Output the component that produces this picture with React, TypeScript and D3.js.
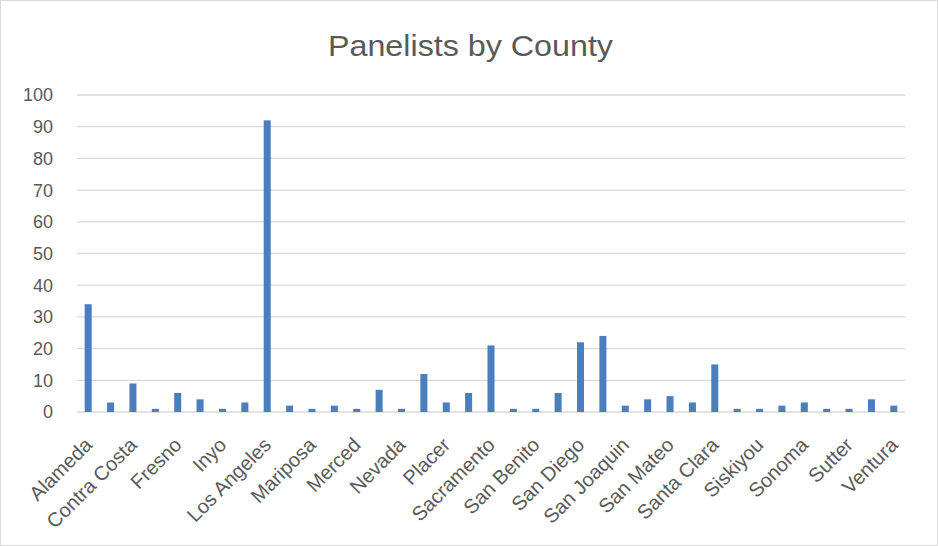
import React from "react";
import * as d3 from "d3";

const counties: string[] = [
  "Alameda", "Butte", "Contra Costa", "El Dorado", "Fresno", "Humboldt", "Inyo", "Kern",
  "Los Angeles", "Marin", "Mariposa", "Mendocino", "Merced", "Monterey", "Nevada", "Orange",
  "Placer", "Riverside", "Sacramento", "Salinas", "San Benito", "San Bernardino", "San Diego",
  "San Francisco", "San Joaquin", "San Luis Obispo", "San Mateo", "Santa Barbara", "Santa Clara",
  "Santa Cruz", "Siskiyou", "Solano", "Sonoma", "Stanislaus", "Sutter", "Tulare", "Ventura",
];
const panelists: number[] = [
  34, 3, 9, 1, 6, 4, 1, 3,
  92, 2, 1, 2, 1, 7, 1, 12,
  3, 6, 21, 1, 1, 6, 22,
  24, 2, 4, 5, 3, 15,
  1, 1, 2, 3, 1, 1, 4, 2,
];
const yTicks: number[] = [0, 10, 20, 30, 40, 50, 60, 70, 80, 90, 100];
const title = "Panelists by County";

const W = 938;
const H = 546;
const PLOT = { left: 77, right: 905, top: 95, bottom: 412 };

export default function App() {
  const x = d3
    .scaleBand<string>()
    .domain(counties)
    .range([PLOT.left, PLOT.right])
    .paddingInner(0.686)
    .paddingOuter(0.343);
  const y = d3.scaleLinear().domain([0, 100]).range([PLOT.bottom, PLOT.top]);
  const font = "'Liberation Sans', Arial, sans-serif";
  const textColor = "#595959";

  return (
    <svg
      width={W}
      height={H}
      style={{ position: "absolute", left: 0, top: 0, background: "#fff" }}
      fontFamily={font}
    >
      <rect x={0.5} y={0.5} width={W - 1} height={H - 1} fill="#fff" stroke="#d9d9d9" />
      <text
        x={470.5}
        y={56}
        textAnchor="middle"
        fontSize={29}
        fill={textColor}
        textLength={285}
        lengthAdjust="spacingAndGlyphs"
      >
        {title}
      </text>
      {yTicks.map((t) => (
        <g key={t}>
          <line
            x1={PLOT.left}
            x2={PLOT.right}
            y1={y(t)}
            y2={y(t)}
            stroke="#d9d9d9"
            strokeWidth={1.3}
          />
          <text x={53} y={y(t)} dy="0.36em" textAnchor="end" fontSize={18} fill={textColor}>
            {t}
          </text>
        </g>
      ))}
      {counties.map((c, i) => (
        <rect
          key={c}
          x={x(c)!}
          y={y(panelists[i])}
          width={x.bandwidth()}
          height={y(0) - y(panelists[i])}
          fill="#4a7ebd"
        />
      ))}
      {counties.map((c, i) => {
        if (i % 2 !== 0) return null;
        const cx = x(c)! + x.bandwidth() / 2;
        return (
          <text
            key={"l" + c}
            transform={`translate(${cx - 5},${436}) rotate(-45)`}
            textAnchor="end"
            dy="0.72em"
            fontSize={20}
            fill={textColor}
          >
            {c}
          </text>
        );
      })}
    </svg>
  );
}
